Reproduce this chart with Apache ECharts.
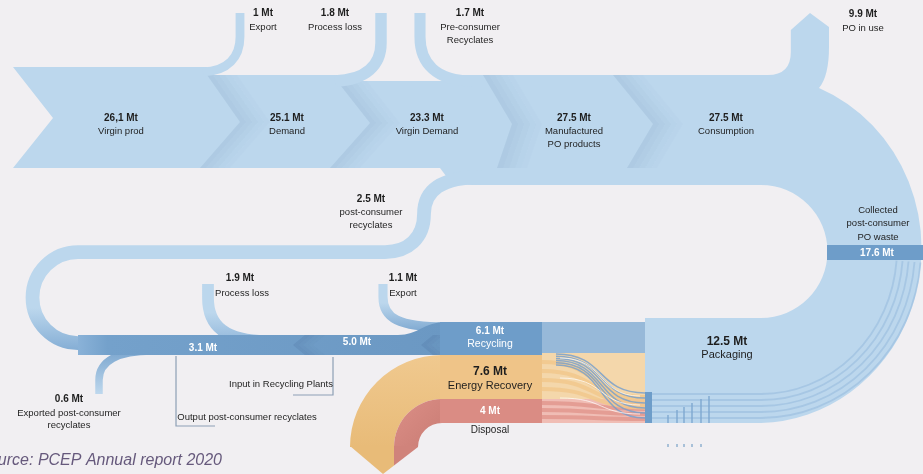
<!DOCTYPE html>
<html><head><meta charset="utf-8">
<script src="https://cdn.jsdelivr.net/npm/echarts@6/dist/echarts.min.js"></script>
<style>html,body{margin:0;padding:0;background:#f1eff2;overflow:hidden}#c{width:923px;height:474px}</style>
</head><body><div id="c"></div>
<script>
// ---------------- DATA ----------------
const stageNames = ['Virgin prod', 'Demand', 'Virgin Demand', 'Manufactured\nPO products', 'Consumption'];
const stageValues = [26.1, 25.1, 23.3, 27.5, 27.5];
const stageLabels = ['26,1 Mt', '25.1 Mt', '23.3 Mt', '27.5 Mt', '27.5 Mt'];

const upperFlowNames = ['Export', 'Process loss', 'Pre-consumer\nRecyclates', 'PO in use'];
const upperFlowValues = [1, 1.8, 1.7, 9.9];
const upperFlowLabels = ['1 Mt', '1.8 Mt', '1.7 Mt', '9.9 Mt'];

const loopFlowNames = ['post-consumer\nrecyclates', 'Process loss', 'Export', 'Exported post-consumer\nrecyclates'];
const loopFlowValues = [2.5, 1.9, 1.1, 0.6];
const loopFlowLabels = ['2.5 Mt', '1.9 Mt', '1.1 Mt', '0.6 Mt'];

const collectedNames = ['Collected\npost-consumer\nPO waste'];
const collectedValues = [17.6];
const collectedLabels = ['17.6 Mt'];

const recyclingBandNames = ['Output post-consumer recyclates', 'Input in Recycling Plants'];
const recyclingBandValues = [3.1, 5.0];
const recyclingBandLabels = ['3.1 Mt', '5.0 Mt'];

const endNames = ['Recycling', 'Energy Recovery', 'Disposal', 'Packaging'];
const endValues = [6.1, 7.6, 4, 12.5];
const endLabels = ['6.1 Mt', '7.6 Mt', '4 Mt', '12.5 Mt'];

const sourceText = 'Source: PCEP Annual report 2020';

// ---------------- STYLE / LAYOUT ----------------
const FONT = "'Liberation Sans Narrow','Arial Narrow','Liberation Sans',Arial,sans-serif";
const COL = { bg: '#f1eff2', light: '#bcd7ed', dark: '#6e9dc9', orange: '#edc283', pink: '#da8c84', text: '#1e1e1e' };
const flowW = v => 5.5 + 3.3 * v;           // flow width (px) from Mt value
const stageTextPos = [[121, 118], [287, 118], [427, 118], [574, 118], [726, 118]];
const chevrons = [
  [[207, 75], [240, 122], [200, 168]],
  [[337, 81], [370, 123], [330, 168]],
  [[483, 75], [512, 124], [497, 168]],
  [[613, 75], [653, 124], [627, 168]]
];

function lg(x0, y0, x1, y1, stops) {
  return new echarts.graphic.LinearGradient(x0, y0, x1, y1, stops.map(s => ({ offset: s[0], color: s[1] })));
}

function helpers(api) {
  const c = (x, y) => api.coord([x, y]);
  const o = api.coord([0, 0]);
  const sz = v => api.coord([v, 0])[0] - o[0];
  const P = cmds => {
    let s = '';
    for (const k of cmds) {
      const t = k[0];
      if (t === 'Z') { s += 'Z '; continue; }
      if (t === 'A') { const p = c(k[6], k[7]); s += 'A ' + sz(k[1]) + ' ' + sz(k[2]) + ' ' + k[3] + ' ' + k[4] + ' ' + k[5] + ' ' + p[0] + ' ' + p[1] + ' '; continue; }
      s += t;
      for (let i = 1; i < k.length; i += 2) { const p = c(k[i], k[i + 1]); s += ' ' + p[0] + ' ' + p[1]; }
      s += ' ';
    }
    return s;
  };
  const txt = (t, x, y, opt) => { const p = c(x, y); return { type: 'text', style: Object.assign({ text: t, x: p[0], y: p[1], fill: COL.text, align: 'center', verticalAlign: 'middle', font: '9.5px ' + FONT }, opt || {}) }; };
  const lines = (t, x, y, lh, opt) => t.split('\n').map((s, i) => txt(s, x, y + i * lh, opt));
  const fillPath = (cmds, fill) => ({ type: 'path', shape: { pathData: P(cmds) }, style: { fill: fill } });
  const strokePath = (cmds, stroke, lw) => ({ type: 'path', shape: { pathData: P(cmds) }, style: { fill: 'none', stroke: stroke, lineWidth: sz(lw), lineCap: 'butt' } });
  const rect = (x1, y1, x2, y2, fill) => { const a = c(x1, y1), b = c(x2, y2); return { type: 'rect', shape: { x: a[0], y: a[1], width: b[0] - a[0], height: b[1] - a[1] }, style: { fill: fill } }; };
  const poly = (pts, fill) => ({ type: 'polygon', shape: { points: pts.map(p => c(p[0], p[1])) }, style: { fill: fill } });
  return { c, sz, P, txt, lines, fillPath, strokePath, rect, poly };
}

const B = 'bold 10px ' + FONT;

const layers = [
  // main band + U-turn
  h => {
    const poL = 829 - flowW(upperFlowValues[3]);
    return [h.fillPath([['M', 13, 67], ['L', 207, 67], ['L', 207, 75], ['L', 345, 75], ['L', 345, 81], ['L', 462, 81], ['L', 462, 75],
      ['L', poL - 23, 75], ['Q', poL, 75, poL, 52], ['L', poL, 30], ['L', 810, 13], ['L', 829, 27], ['L', 829, 47], ['Q', 829, 76, 819, 88],
      ['A', 165, 174, 0, 0, 1, 761, 423], ['L', 645, 423], ['L', 645, 318], ['L', 761, 318], ['A', 66.5, 66.5, 0, 0, 0, 761, 185],
      ['L', 472, 185], ['Q', 452, 185, 446, 176], ['L', 440, 168], ['L', 13, 168], ['L', 53, 118], ['Z']], COL.light)];
  },
  // chevron shadows
  h => {
    const out = [];
    const steps = [0.17, 0.13, 0.09, 0.055, 0.025];
    chevrons.forEach(ch => {
      steps.forEach((a, k) => {
        const o1 = k * 6, o2 = (k + 1) * 6;
        out.push(h.poly([[ch[0][0] + o1, ch[0][1]], [ch[1][0] + o1, ch[1][1]], [ch[2][0] + o1, ch[2][1]],
          [ch[2][0] + o2, ch[2][1]], [ch[1][0] + o2, ch[1][1]], [ch[0][0] + o2, ch[0][1]]], 'rgba(105,140,180,' + a + ')'));
      });
    });
    return out;
  },
  // upper side flows
  h => [
    h.strokePath([['M', 203, 72], ['C', 228, 71, 240, 57, 240, 37], ['L', 240, 13]], COL.light, flowW(upperFlowValues[0])),
    h.strokePath([['M', 335, 81], ['C', 366, 80, 381, 65, 381, 43], ['L', 381, 13]], COL.light, flowW(upperFlowValues[1])),
    h.strokePath([['M', 420, 13], ['L', 420, 37], ['C', 420, 63, 436, 81, 472, 81]], COL.light, flowW(upperFlowValues[2]))
  ],
  // stripes in the U
  h => {
    const out = [];
    [5, 11, 17, 23, 29].forEach(d => {
      const rx = 165 - d, ry = 174 - d, th = 0.08;
      const sx = 761 + rx * Math.cos(th), sy = 249 + ry * Math.sin(th);
      out.push(h.strokePath([['M', sx, sy], ['A', rx, ry, 0, 0, 1, 761, 423 - d], ['L', 652, 423 - d]], 'rgba(135,175,215,0.4)', 1.8));
    });
    return out;
  },
  // collected waste bar
  h => [
    h.rect(827, 245, 923, 260, COL.dark),
    h.txt(collectedLabels[0], 877, 253, { font: B, fill: '#ffffff' }),
    ...h.lines(collectedNames[0], 878, 210, 13.5)
  ],
  // post-consumer recyclates loop
  h => [
    h.strokePath([['M', 482, 177], ['C', 442, 177, 424, 190, 424, 214], ['C', 424, 238, 408, 252, 385, 252], ['L', 78, 252]], COL.light, flowW(loopFlowValues[0])),
    h.strokePath([['M', 78, 252], ['A', 45.5, 45.5, 0, 0, 0, 78, 343]], lg(0, 0, 0, 1, [[0, COL.light], [0.6, COL.light], [1, '#85aed5']]), flowW(loopFlowValues[0])),
    h.txt(loopFlowLabels[0], 371, 199, { font: B }),
    ...h.lines(loopFlowNames[0], 371, 212, 13)
  ],
  // exported post-consumer recyclates
  h => [
    h.strokePath([['M', 152, 351], ['C', 118, 351, 99, 361, 99, 380], ['L', 99, 394]], lg(0, 0, 0, 1, [[0, '#76a2cc'], [1, '#c4dcf0']]), flowW(loopFlowValues[3])),
    h.txt(loopFlowLabels[3], 69, 399, { font: B }),
    ...h.lines(loopFlowNames[3], 69, 413, 12.5)
  ],
  // process loss + export from recycling
  h => [
    h.strokePath([['M', 208, 284], ['L', 208, 298], ['C', 208, 326, 226, 341, 266, 341]], lg(0, 0, 0, 1, [[0, COL.light], [0.5, COL.light], [1, '#8cb3d8']]), flowW(loopFlowValues[1])),
    h.strokePath([['M', 383, 284], ['L', 383, 297], ['C', 383, 318, 398, 327, 446, 327]], lg(0, 0, 0, 1, [[0, COL.light], [0.45, COL.light], [1, '#7fa9d1']]), flowW(loopFlowValues[2])),
    h.txt(loopFlowLabels[1], 240, 278, { font: B }),
    h.txt(loopFlowNames[1], 242, 293),
    h.txt(loopFlowLabels[2], 403, 278, { font: B }),
    h.txt(loopFlowNames[2], 403, 293)
  ],
  // dark recycling band
  h => {
    const out = [h.fillPath([['M', 78, 335], ['L', 398, 335], ['C', 418, 335, 424, 322, 446, 322], ['L', 446, 355], ['L', 78, 355], ['Z']],
      lg(0, 0, 1, 0, [[0, '#8ab2d8'], [0.08, '#74a1cb'], [1, '#6b98c3']]))];
    [[293, 345], [421, 345]].forEach(p => {
      [0.16, 0.11, 0.06, 0.03].forEach((a, k) => {
        const o1 = k * 5, o2 = (k + 1) * 5;
        out.push(h.poly([[p[0] + 12 + o1, 335], [p[0] + o1, p[1]], [p[0] + 12 + o1, 355], [p[0] + 12 + o2, 355], [p[0] + o2, p[1]], [p[0] + 12 + o2, 335]], 'rgba(60,95,140,' + a + ')'));
      });
    });
    out.push(h.txt(recyclingBandLabels[0], 203, 348, { font: B, fill: '#ffffff' }));
    out.push(h.txt(recyclingBandLabels[1], 357, 342, { font: B, fill: '#ffffff' }));
    return out;
  },
  // brackets
  h => [
    h.strokePath([['M', 176, 356], ['L', 176, 426], ['L', 215, 426]], '#8d9fb5', 1.2),
    h.strokePath([['M', 333, 357], ['L', 333, 395], ['L', 293, 395]], '#8d9fb5', 1.2),
    h.txt(recyclingBandNames[0], 247, 417),
    h.txt(recyclingBandNames[1], 281, 384)
  ],
  // energy recovery / disposal arcs
  h => [
    h.fillPath([['M', 350, 447], ['A', 92, 92, 0, 0, 1, 442, 355], ['L', 442, 399], ['A', 48, 48, 0, 0, 0, 394, 447], ['Z']], lg(0, 0, 0, 1, [[0, '#f0c98f'], [1, '#e8bb78']])),
    h.poly([[350, 446], [383, 474], [394, 465.5], [394, 446]], '#e8bb78'),
    h.fillPath([['M', 394, 447], ['A', 48, 48, 0, 0, 1, 442, 399], ['L', 442, 423], ['A', 24, 24, 0, 0, 0, 418, 447], ['Z']], lg(0, 0, 1, 1, [[0, '#dc8f87'], [1, '#c97c74']])),
    h.poly([[394, 446], [394, 465.5], [418, 447], [418, 446]], '#d0837b')
  ],
  // end blocks
  h => [
    h.rect(440, 322, 542, 355, COL.dark),
    h.rect(440, 355, 542, 399, '#efc488'),
    h.rect(440, 399, 542, 423, COL.pink),
    h.txt(endLabels[0], 490, 331, { font: B, fill: '#ffffff' }),
    h.txt(endNames[0], 490, 344, { font: '10.5px ' + FONT, fill: '#ffffff' }),
    h.txt(endLabels[1], 490, 372, { font: 'bold 12px ' + FONT }),
    h.txt(endNames[1], 490, 386, { font: '11px ' + FONT }),
    h.txt(endLabels[2], 490, 411, { font: B, fill: '#ffffff' }),
    h.txt(endNames[2], 490, 430, { font: '10px ' + FONT })
  ],
  // link area between blocks and packaging
  h => {
    const out = [
      h.rect(542, 322, 645, 353, '#97b9d9'),
      h.rect(542, 353, 645, 399, '#f4d7ab'),
      h.rect(542, 399, 645, 423, '#f0bdb5')
    ];
    for (let k = 0; k < 3; k++) { const y0 = 403 + k * 7, y1 = 409 + k * 5; out.push(h.strokePath([['M', 542, y0], ['C', 598, y0, 590, y1, 645, y1]], 'rgba(226,152,142,0.85)', 4)); }
    for (let k = 0; k < 4; k++) { const y0 = 362 + k * 9, y1 = 397 + k * 3.5; out.push(h.strokePath([['M', 542, y0], ['C', 598, y0, 590, y1, 645, y1]], 'rgba(241,200,140,0.85)', 4)); }
    for (let k = 0; k < 6; k++) { const y0 = 354 + k * 2.2, y1 = 393 + k * 5; out.push(h.strokePath([['M', 556, y0], ['C', 606, y0, 596, y1, 645, y1]], 'rgba(115,158,205,0.8)', 1.5)); }
    for (let k = 0; k < 3; k++) { const y0 = 358 + k * 20, y1 = 396 + k * 9; out.push(h.strokePath([['M', 560, y0], ['C', 605, y0, 598, y1, 640, y1]], 'rgba(255,255,255,0.7)', 1)); }
    out.push(h.rect(645, 392, 652, 423, COL.dark));
    const tx = [668, 677, 684, 692, 701, 709], ty = [415, 410, 407, 403, 399, 396];
    tx.forEach((x, i) => out.push(h.strokePath([['M', x, 423], ['L', x, ty[i]]], '#7ea8d0', 1.4)));
    tx.slice(0, 5).forEach(x => out.push(h.rect(x - 1, 444, x + 1, 447, '#a8c0d8')));
    return out;
  },
  // stage and upper labels
  h => {
    const out = [];
    stageNames.forEach((n, i) => {
      const p = stageTextPos[i];
      out.push(h.txt(stageLabels[i], p[0], p[1], { font: B }));
      out.push(...h.lines(n, p[0], p[1] + 13, 13));
    });
    const up = [[263, 13], [335, 13], [470, 13], [863, 14]];
    upperFlowNames.forEach((n, i) => {
      out.push(h.txt(upperFlowLabels[i], up[i][0], up[i][1], { font: B }));
      out.push(...h.lines(n, up[i][0], up[i][1] + 14, 13));
    });
    out.push(h.txt(endLabels[3], 727, 342, { font: 'bold 12px ' + FONT }));
    out.push(h.txt(endNames[3], 727, 355, { font: '11px ' + FONT }));
    return out;
  },
  // source
  h => [h.txt(sourceText, 222, 461, { font: "italic 16px 'Liberation Sans',Arial,sans-serif", fill: '#66597c', align: 'right' })]
];

const chart = echarts.init(document.getElementById('c'), null, { renderer: 'canvas' });
chart.setOption({
  backgroundColor: COL.bg,
  animation: false,
  grid: { left: 0, right: 0, top: 0, bottom: 0 },
  xAxis: { type: 'value', min: 0, max: 923, show: false },
  yAxis: { type: 'value', min: 0, max: 474, inverse: true, show: false },
  series: [{
    type: 'custom',
    silent: true,
    clip: false,
    data: layers.map((f, i) => [i, 0]),
    renderItem: (params, api) => {
      const h = helpers(api);
      const children = layers[params.dataIndex](h).map(ch => Object.assign(ch, { z2: params.dataIndex }));
      return { type: 'group', children: children };
    }
  }]
});
</script>
</body></html>
